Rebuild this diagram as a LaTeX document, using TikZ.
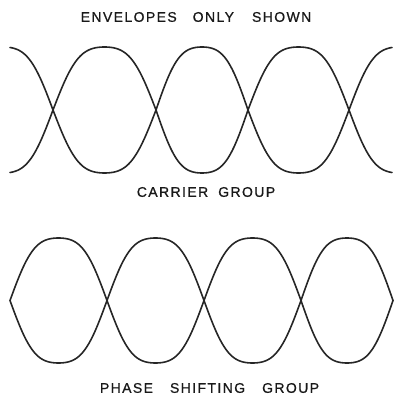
\documentclass[tikz,border=0pt]{standalone}
\usepackage{fontspec}
\newfontfamily\lbl[LetterSpace=10,FakeBold=0.8]{Liberation Sans}
\tikzset{
  env/.style={line width=1.6pt, draw=black!85, line cap=round, line join=round},
  caption/.style={font=\lbl\fontsize{14}{14}\selectfont, text=black!90, inner sep=0pt, anchor=center},
  declare function={ff(\t)=(sin(\t)+0.08*sin(3*\t))/0.92;}
}
\begin{document}
\begin{tikzpicture}[x=1pt,y=-1pt]
\useasboundingbox (0,0) rectangle (395,395);
% ---- carrier group (centre 110, amplitude 63)
\foreach \sa/\sb/\sg/\lo/\hi in {-47/53/1/10/53, 53/156/-1/53/156, 156/248/1/156/248, 248/349/-1/248/349, 349/449/1/349/392}{
  \draw[env] plot[domain=\lo:\hi, samples=90] (\x, {110 - \sg*63*ff((\x-\sa)*(180/(\sb-\sa)))});
  \draw[env] plot[domain=\lo:\hi, samples=90] (\x, {110 + \sg*63*ff((\x-\sa)*(180/(\sb-\sa)))});
}
% ---- phase shifting group (centre 300.5, amplitude 62.5)
\foreach \sa/\sb in {10/107, 107/204, 204/301, 301/393}{
  \draw[env] plot[domain=\sa:\sb, samples=90] (\x, {300.5 - 62.5*ff((\x-\sa)*(180/(\sb-\sa)))});
  \draw[env] plot[domain=\sa:\sb, samples=90] (\x, {300.5 + 62.5*ff((\x-\sa)*(180/(\sb-\sa)))});
}
\node[caption] (t1) at (196,17) {ENVELOPES\hspace{16pt}ONLY\hspace{18pt}SHOWN};
\node[caption] (t2) at (206,192) {CARRIER\hspace{10pt}GROUP};
\node[caption] (t3) at (209.5,388) {PHASE\hspace{17pt}SHIFTING\hspace{17pt}GROUP};
\end{tikzpicture}
\end{document}
